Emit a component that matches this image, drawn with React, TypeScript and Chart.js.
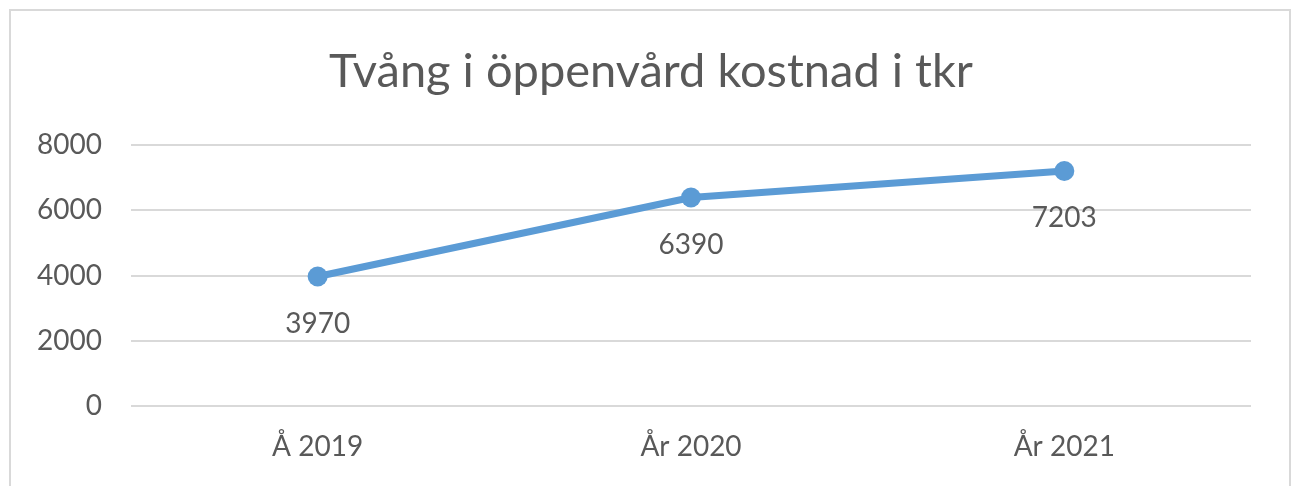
import React, { useEffect, useRef } from "react";
import { Chart, registerables } from "chart.js";

Chart.register(...registerables);

const titleText = "Tvång i öppenvård kostnad i tkr";
const categories = ["Å 2019", "År 2020", "År 2021"];
const values = [3970, 6390, 7203];
const yTicks = [0, 2000, 4000, 6000, 8000];

const FONT = "Lato, 'Open Sans', sans-serif";
const TEXT = "#595959";
const LINE = "#5B9BD5";
const GRID = "#d9d9d9";
const LABEL_SIZE = 28;
const TITLE_SIZE = 47;

const frame = {
  id: "frame",
  beforeDraw(chart: any) {
    const ctx = chart.ctx;
    ctx.save();
    ctx.fillStyle = "#ffffff";
    ctx.fillRect(0, 0, chart.width, chart.height);
    ctx.strokeStyle = GRID;
    ctx.lineWidth = 2;
    ctx.strokeRect(10, 10, 1280, 500);
    ctx.fillStyle = TEXT;
    ctx.font = `${TITLE_SIZE}px ${FONT}`;
    ctx.textAlign = "center";
    ctx.textBaseline = "middle";
    ctx.fillText(titleText, 651, 72);
    ctx.restore();
  },
};

const dataLabels = {
  id: "dataLabels",
  afterDatasetsDraw(chart: any) {
    const ctx = chart.ctx;
    const meta = chart.getDatasetMeta(0);
    ctx.save();
    ctx.font = `${LABEL_SIZE}px ${FONT}`;
    ctx.fillStyle = TEXT;
    ctx.textAlign = "center";
    ctx.textBaseline = "middle";
    meta.data.forEach((pt: any, i: number) => {
      ctx.fillText(String(values[i]), pt.x, pt.y + 47);
    });
    ctx.restore();
  },
};

export default function App() {
  const ref = useRef<HTMLCanvasElement>(null);
  useEffect(() => {
    document.body.style.margin = "0";
    const chart = new Chart(ref.current!, {
      type: "line",
      data: {
        labels: categories,
        datasets: [
          {
            data: values,
            borderColor: LINE,
            backgroundColor: LINE,
            borderWidth: 7,
            pointRadius: 10,
            pointHoverRadius: 10,
            pointBackgroundColor: LINE,
            pointBorderWidth: 0,
            tension: 0,
          },
        ],
      },
      options: {
        animation: false,
        responsive: false,
        layout: { padding: { left: 0, right: 48, top: 145, bottom: 0 } },
        plugins: {
          legend: { display: false },
          tooltip: { enabled: false },
          title: { display: false },
        },
        scales: {
          x: {
            offset: true,
            grid: { display: false, drawTicks: false },
            border: { display: false },
            ticks: {
              color: TEXT,
              font: { family: FONT, size: LABEL_SIZE },
              padding: 24,
            },
            afterFit(scale: any) {
              scale.height = 80;
            },
          },
          y: {
            min: 0,
            max: 8000,
            afterBuildTicks(scale: any) {
              scale.ticks = yTicks.map((v) => ({ value: v }));
            },
            grid: { color: GRID, lineWidth: 2, drawTicks: false },
            border: { display: false },
            ticks: {
              color: TEXT,
              font: { family: FONT, size: LABEL_SIZE },
              padding: 29,
              callback: (v: any) => String(v),
            },
            afterFit(scale: any) {
              scale.width = 131;
            },
          },
        },
      },
      plugins: [frame, dataLabels],
    });
    return () => chart.destroy();
  }, []);
  return <canvas ref={ref} width={1299} height={486} style={{ display: "block" }} />;
}
